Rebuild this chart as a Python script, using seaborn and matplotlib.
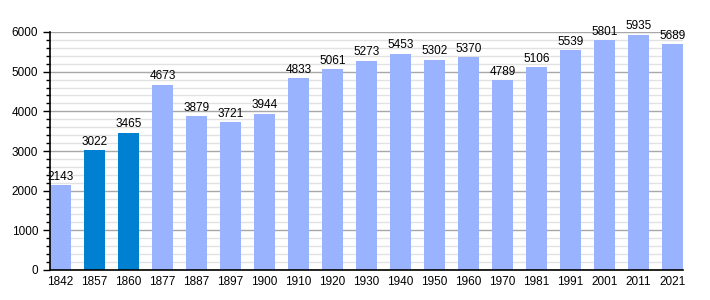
import matplotlib
matplotlib.use("Agg")
import matplotlib.pyplot as plt
import seaborn as sns
import pandas as pd
from matplotlib.ticker import MultipleLocator

years = ["1842", "1857", "1860", "1877", "1887", "1897", "1900", "1910", "1920", "1930",
         "1940", "1950", "1960", "1970", "1981", "1991", "2001", "2011", "2021"]
population = [2143, 3022, 3465, 4673, 3879, 3721, 3944, 4833, 5061, 5273,
              5453, 5302, 5370, 4789, 5106, 5539, 5801, 5935, 5689]
highlight = ["1857", "1860"]

df = pd.DataFrame({"year": years, "pop": population})
colors = ["#0080d0" if y in highlight else "#99b3ff" for y in years]

sns.set_style("white")
plt.rcParams["font.family"] = ["Liberation Sans", "DejaVu Sans"]
plt.rcParams["text.color"] = "black"
plt.rcParams["xtick.color"] = "black"
plt.rcParams["ytick.color"] = "black"

fig = plt.figure(figsize=(7.1, 3.0), dpi=100)
ax = fig.add_axes([50/710, 30/300, 633/710, 238/300])

sns.barplot(data=df, x="year", y="pop", hue="year", palette=colors, legend=False,
            width=0.62, saturation=1, ax=ax, linewidth=0)

ax.set_ylim(0, 6000)
ax.set_xlim(-0.31, len(years) - 1 + 0.31)
ax.yaxis.set_major_locator(MultipleLocator(1000))
ax.yaxis.set_minor_locator(MultipleLocator(200))
ax.set_axisbelow(True)
ax.grid(axis="y", which="major", color="#a8a8a8", linewidth=1)
ax.grid(axis="y", which="minor", color="#e2e2e2", linewidth=1)

for s in ["top", "right"]:
    ax.spines[s].set_visible(False)
for s in ["left", "bottom"]:
    ax.spines[s].set_color("black")
    ax.spines[s].set_linewidth(1.2)
    ax.spines[s].set_zorder(5)

ax.tick_params(axis="y", which="major", length=5, width=1, labelsize=8.5, direction="out", left=True,
               colors="black")
ax.tick_params(axis="y", which="minor", length=3, width=1, direction="out", left=True, colors="black")
ax.tick_params(axis="x", length=0, labelsize=8.5, pad=4, colors="black")
ax.set_xlabel("")
ax.set_ylabel("")

for i, v in enumerate(population):
    ax.text(i, v + 60, str(v), ha="center", va="bottom", fontsize=8.5, color="black", zorder=5)

fig.savefig("out.png", dpi=100)
